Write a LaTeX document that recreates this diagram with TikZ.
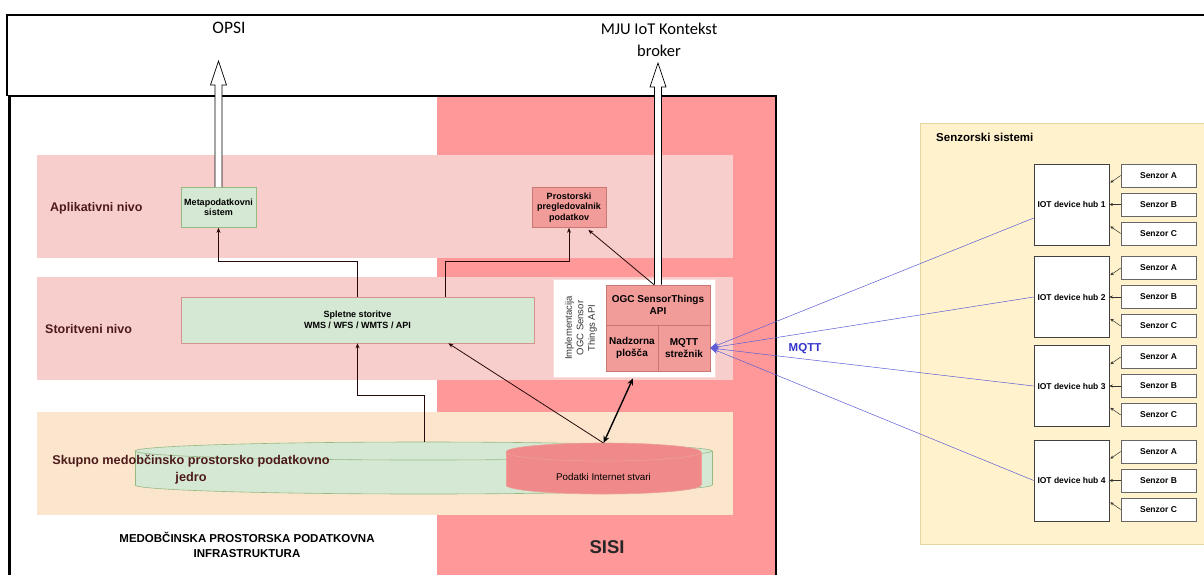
\documentclass[tikz,border=0pt]{standalone}
\usepackage{fontspec}
\setmainfont{Liberation Sans}
\newfontfamily\calib{Carlito}
\usetikzlibrary{arrows.meta,calc}
\definecolor{sisi}{RGB}{255,153,153}
\definecolor{band}{RGB}{248,206,204}
\definecolor{peach}{RGB}{252,229,205}
\definecolor{gfill}{RGB}{213,232,212}
\definecolor{gline}{RGB}{150,185,130}
\definecolor{rfill}{RGB}{241,156,153}
\definecolor{rline}{RGB}{200,120,115}
\definecolor{yfill}{RGB}{255,242,204}
\definecolor{yline}{RGB}{230,214,160}
\definecolor{maroon}{RGB}{77,26,26}
\definecolor{mqttblue}{RGB}{51,51,204}
\definecolor{cylpink}{RGB}{240,138,138}
\definecolor{cylpinkline}{RGB}{236,160,150}
\definecolor{arrowc}{RGB}{40,10,10}
\begin{document}
\begin{tikzpicture}[x=1pt,y=-1pt,
  bandbox/.style={fill=#1, draw=none, inner sep=0pt},
  greenbox/.style={fill=gfill, draw=gline, line width=0.6pt, inner sep=1pt, align=center,
    font=\bfseries\fontsize{9}{10.5}\selectfont},
  redbox/.style={fill=rfill, draw=rline, line width=0.6pt, inner sep=1pt, align=center,
    font=\bfseries\fontsize{9}{10.5}\selectfont},
  hubbox/.style={fill=white, draw=black!75, line width=0.6pt, inner sep=1pt,
    minimum width=75pt, minimum height=81pt, font=\bfseries\fontsize{8.5}{10}\selectfont},
  senbox/.style={fill=white, draw=black!60, line width=0.6pt, inner sep=1pt,
    minimum width=75pt, minimum height=23pt, font=\bfseries\fontsize{8.5}{10}\selectfont},
  levellabel/.style={font=\bfseries\fontsize{12.5}{14}\selectfont, text=maroon, inner sep=0pt},
  conn/.style={draw=arrowc, line width=0.8pt, -{Stealth[length=5pt,width=4pt]}},
  sconn/.style={draw=black!80, line width=0.5pt, -{Stealth[length=3.5pt,width=3pt]}},
  mq/.style={draw=mqttblue!80, line width=0.5pt, -{Stealth[length=8pt,width=6pt]}},
  hollow/.style={fill=white, draw=black, line width=0.7pt, line join=miter}
]
\useasboundingbox (0,0) rectangle (1204,574);
\clip (0,0) rectangle (1204,574);
\fill[white] (0,0) rectangle (1204,574);

% top frame
\draw[line width=1.6pt] (7,96) -- (7,15) -- (1210,15);
% SISI area
\fill[sisi] (437,96) rectangle (776,590);

% levels
\node[bandbox=band, minimum width=696pt, minimum height=103pt] (aplband) at (385,206.5) {};
\node[bandbox=band, minimum width=696pt, minimum height=103pt] (storband) at (385,328.5) {};
\node[bandbox=peach, minimum width=696pt, minimum height=103pt] (jedband) at (385,463.5) {};

% inner frame
\draw[line width=2.8pt] (9.5,590) -- (9.5,96) -- (776,96) -- (776,590);

\node[levellabel, anchor=west] (apllab) at (50,208) {Aplikativni nivo};
\node[levellabel, anchor=west] (storlab) at (45,329) {Storitveni nivo};

% application level boxes
\node[greenbox, minimum width=75pt, minimum height=40pt] (meta) at (218.5,207.5) {Metapodatkovni\\sistem};
\node[redbox, minimum width=74pt, minimum height=40pt] (prost) at (569,207.5) {Prostorski\\pregledovalnik\\podatkov};

% service level
\node[greenbox, draw=rline!80, minimum width=353pt, minimum height=46pt,
  font=\bfseries\fontsize{9}{11}\selectfont] (splet) at (357.5,320) {Spletne storitve\\WMS / WFS / WMTS / API};
\node[fill=white, draw=band!70!white, line width=0.6pt, minimum width=162pt, minimum height=98pt, inner sep=0pt] (impl) at (634,328) {};
\node[rotate=90, align=center, inner sep=0pt, text=black!80,
  font=\fontsize{9.5}{11.5}\selectfont] (impltxt) at (581,328) {Implementacija\\OGC Sensor\\Things API};
\node[redbox, minimum width=104pt, minimum height=40pt, font=\bfseries\fontsize{10}{12}\selectfont] (ogc) at (658,305) {OGC SensorThings\\API};
\node[redbox, minimum width=52pt, minimum height=46pt, font=\bfseries\fontsize{10}{12}\selectfont] (nadz) at (632,348) {Nadzorna\\plošča};
\node[redbox, minimum width=52pt, minimum height=46pt, font=\bfseries\fontsize{10}{12}\selectfont] (mqtt) at (684,348) {MQTT\\strežnik};

% cylinders
\draw[gline, fill=gfill, line width=0.6pt] (423.5,485) ellipse[x radius=288.5, y radius=9];
\fill[gfill] (135,451) rectangle (712,485);
\draw[gline, line width=0.6pt] (135,451) -- (135,485) (712,451) -- (712,485);
\draw[gline, fill=gfill, line width=0.6pt] (423.5,451) ellipse[x radius=288.5, y radius=9];
\node[inner sep=0pt, minimum width=577pt, minimum height=52pt] (gcyl) at (423.5,468) {};
\coordinate (gcyltop) at (424,442);

\draw[cylpinkline, fill=cylpink, line width=0.6pt] (603.5,485) ellipse[x radius=97.5, y radius=9];
\fill[cylpink] (506,452) rectangle (701,485);
\draw[cylpinkline, line width=0.6pt] (506,452) -- (506,485) (701,452) -- (701,485);
\draw[cylpinkline, fill=cylpink, line width=0.6pt] (603.5,452) ellipse[x radius=97.5, y radius=9];
\node[inner sep=0pt, font=\fontsize{9.8}{11}\selectfont] (pcyl) at (603.5,477) {Podatki Internet stvari};
\coordinate (pcyltop) at (603.5,443);

\node[align=center, inner sep=0pt, text=maroon, font=\bfseries\fontsize{12.7}{17}\selectfont] (jedlab) at (191,470)
  {Skupno medobčinsko prostorsko podatkovno\\jedro};

% bottom labels
\node[align=center, inner sep=0pt, font=\bfseries\fontsize{11.5}{15}\selectfont] (mpi) at (247,545)
  {MEDOBČINSKA PROSTORSKA PODATKOVNA\\INFRASTRUKTURA};
\node[inner sep=0pt, font=\bfseries\fontsize{18.5}{20}\selectfont, text=black!85] (sisilab) at (607,547) {SISI};

% top labels
\node[inner sep=0pt, font=\calib\fontsize{17.5}{21}\selectfont] (opsi) at (229,28) {OPSI};
\node[inner sep=0pt, align=center, font=\calib\fontsize{16.5}{22}\selectfont] (mju) at (659,40) {MJU IoT Kontekst\\broker};

% hollow arrows
\coordinate (opsitip) at (218.5,61);
\draw[hollow] ($(meta.north)+(-3.5,0)$) -- ($(opsitip)+(-3.5,24)$) -- ($(opsitip)+(-8,24)$) -- (opsitip)
  -- ($(opsitip)+(8,24)$) -- ($(opsitip)+(3.5,24)$) -- ($(meta.north)+(3.5,0)$);
\coordinate (mjutip) at (658,63);
\draw[hollow] ($(ogc.north)+(-3.5,0)$) -- ($(mjutip)+(-3.5,24)$) -- ($(mjutip)+(-8,24)$) -- (mjutip)
  -- ($(mjutip)+(8,24)$) -- ($(mjutip)+(3.5,24)$) -- ($(ogc.north)+(3.5,0)$);

% connectors
\draw[conn] (splet.north) -- ++(0,-35) -| (meta.south);
\draw[conn] ($(splet.north west)+(265,0)$) -- ++(0,-35) -| (prost.south);
\draw[conn] ($(ogc.north)+(-4,0)$) -- ($(prost.south east)+(-18,2)$);
\draw[conn] (gcyltop) -- ++(0,-47) -| (splet.south);
\draw[conn] (pcyltop) -- ($(splet.south east)+(-86,0)$);
\draw[draw=black, line width=1.4pt, {Stealth[length=7pt,width=6pt]}-{Stealth[length=7pt,width=6pt]}]
  (pcyltop) -- ($(impl.south)+(-1,1)$);

% sensor systems
\node[fill=yfill, draw=yline, line width=0.6pt, minimum width=290pt, minimum height=421pt, inner sep=0pt] (senz) at (1065,333.5) {};
\node[anchor=west, inner sep=0pt, font=\bfseries\fontsize{11.5}{13}\selectfont] (senzlab) at (936,137) {Senzorski sistemi};

\foreach \i/\y in {1/204.5, 2/297, 3/386, 4/480.5} {
  \node[hubbox] (hub\i) at (1071.5,\y) {IOT device hub \i};
  \node[senbox] (sa\i) at (1158.5,\y-29) {Senzor A};
  \node[senbox] (sb\i) at (1158.5,\y) {Senzor B};
  \node[senbox] (sc\i) at (1158.5,\y+29) {Senzor C};
  \draw[sconn] (sa\i.west) -- ($(hub\i.north east)+(1,19)$);
  \draw[sconn] (sb\i.west) -- (sb\i.west -| hub\i.east);
  \draw[sconn] (sc\i.west) -- ($(hub\i.south east)+(1,-19)$);
}

% MQTT links
\draw[mq] ($(hub1.west)+(0,13.5)$) -- (mqtt.east);
\draw[mq] (hub2.west) -- (mqtt.east);
\draw[mq] (hub3.west) -- (mqtt.east);
\draw[mq] (hub4.west) -- (mqtt.east);
\node[inner sep=0pt, text=mqttblue, font=\bfseries\fontsize{11.5}{13}\selectfont] (mqttlab) at (805,349) {MQTT};
\end{tikzpicture}
\end{document}
